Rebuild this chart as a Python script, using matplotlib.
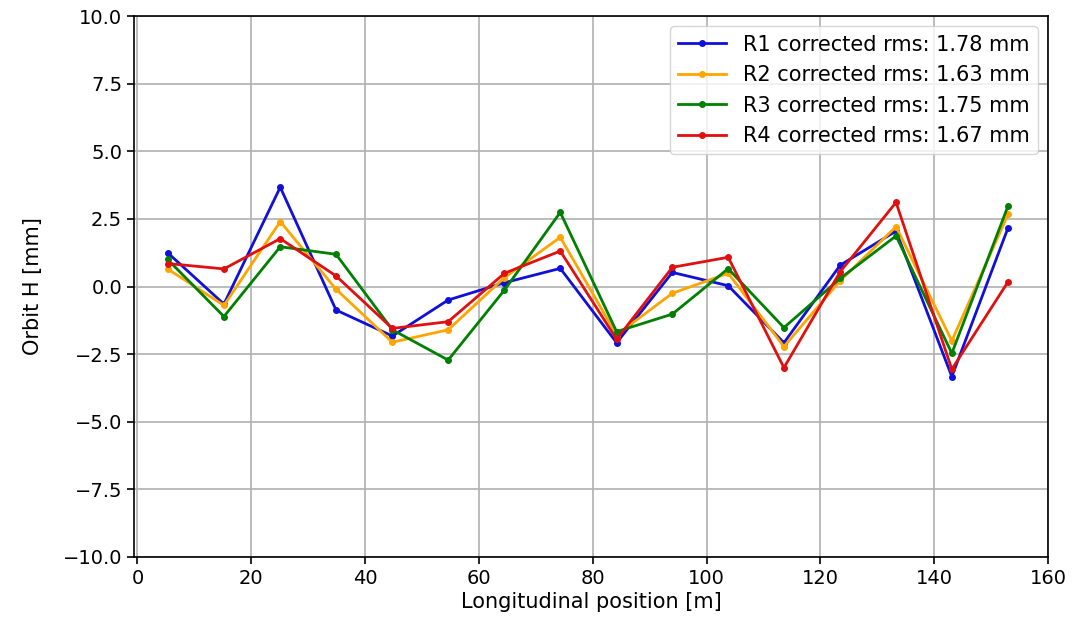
import matplotlib
matplotlib.use("Agg")
import matplotlib.pyplot as plt
import numpy as np

positions = [5.3, 15.2, 25.1, 34.9, 44.8, 54.6, 64.5, 74.3, 84.2, 94.0, 103.8, 113.6, 123.5, 133.3, 143.1, 153.0]
r1 = [1.25, -0.65, 3.67, -0.87, -1.83, -0.5, 0.14, 0.67, -2.08, 0.52, 0.03, -2.08, 0.79, 2.05, -3.33, 2.18]
r2 = [0.65, -0.7, 2.4, -0.1, -2.06, -1.6, 0.33, 1.82, -1.79, -0.25, 0.49, -2.22, 0.22, 2.21, -2.01, 2.68]
r3 = [1.0, -1.11, 1.47, 1.19, -1.6, -2.72, -0.13, 2.74, -1.67, -1.02, 0.66, -1.52, 0.3, 1.87, -2.47, 2.99]
r4 = [0.85, 0.65, 1.77, 0.39, -1.55, -1.3, 0.49, 1.31, -1.95, 0.71, 1.08, -3.0, 0.55, 3.11, -3.06, 0.18]
labels = ["R1 corrected rms: 1.78 mm", "R2 corrected rms: 1.63 mm",
          "R3 corrected rms: 1.75 mm", "R4 corrected rms: 1.67 mm"]
colors = ["#1010d8", "orange", "green", "#e01010"]

plt.rcParams['font.family'] = ['DejaVu Sans']
plt.rcParams['font.size'] = 14

fig = plt.figure(figsize=(10.85, 6.18), dpi=100)
ax = fig.add_axes([134/1085, 1-557/618, (1048-134)/1085, (557-16)/618])

for ys, lab, c in zip([r1, r2, r3, r4], labels, colors):
    ax.plot(positions, ys, color=c, marker='o', markersize=4, linewidth=2, label=lab)

ax.set_xlim(-0.6, 160)
ax.set_ylim(-10, 10)
ax.set_xticks(np.arange(0, 161, 20))
ax.set_yticks(np.arange(-10, 10.01, 2.5))
ax.yaxis.set_major_formatter(matplotlib.ticker.FuncFormatter(
    lambda v, p: ("%.1f" % v).replace("-", "\u2212")))
ax.tick_params(labelsize=14, length=5, width=1.2)
ax.grid(True, color='#b0b0b0', linewidth=1.2)
ax.set_xlabel("Longitudinal position [m]", fontsize=15, labelpad=3)
ax.set_ylabel("Orbit H [mm]", fontsize=15, labelpad=14)
for s in ax.spines.values():
    s.set_linewidth(1.2)
ax.legend(loc='upper right', fontsize=15, handlelength=2.3, borderaxespad=0.5)

fig.savefig("out.png", dpi=100)
